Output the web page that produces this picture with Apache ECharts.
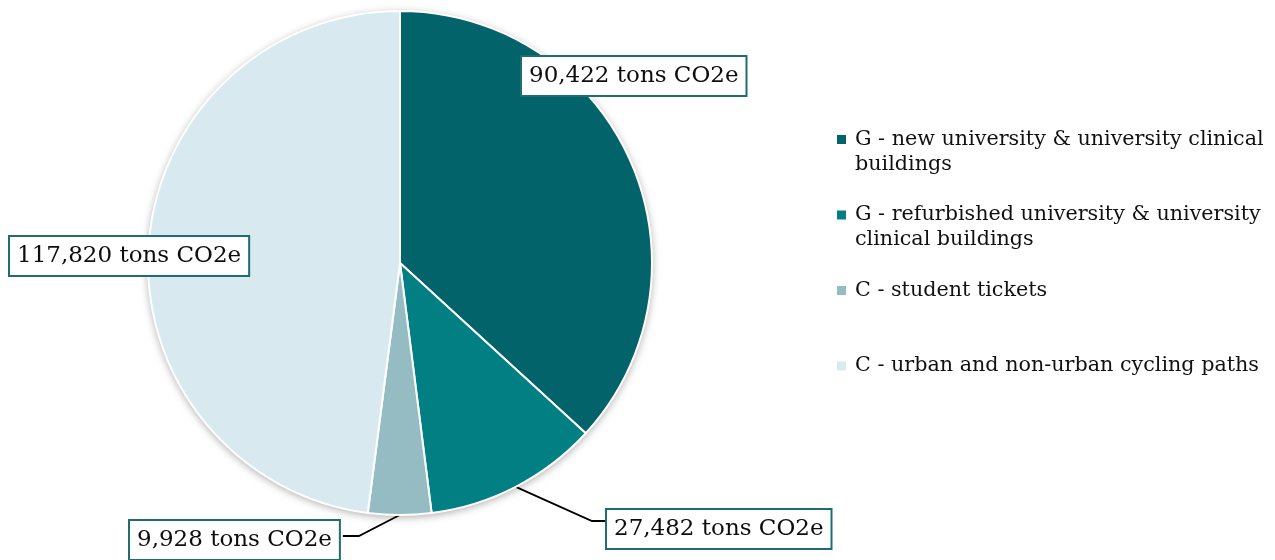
<!DOCTYPE html>
<html>
<head>
<meta charset="utf-8">
<script src="https://cdn.jsdelivr.net/npm/echarts@6/dist/echarts.min.js"></script>
<style>
  html, body { margin: 0; padding: 0; background: #ffffff; }
  #chart { width: 1275px; height: 560px; }
</style>
</head>
<body>
<div id="chart"></div>
<script>
// Emission savings per measure (tons CO2e)
const categories = [
  'G - new university & university clinical\nbuildings',
  'G - refurbished university & university\nclinical buildings',
  'C - student tickets',
  'C - urban and non-urban cycling paths'
];
const emissions = [90422, 27482, 9928, 117820];
const sliceColors = ['#03636a', '#017f82', '#94bcc2', '#d8eaf0'];

// Where each value box sits (top-left corner) and which side its leader line joins
const labelAnchors = [[522, 57], [607, 510], [130, 521], [10, 237]];
const leaderSide = [null, 'left', 'right', null];
const leaderJoin = { left: 11, right: 15 };

const PIE_CENTER = [400, 263];
const PIE_RADIUS = 252;
const SERIF = '"DejaVu Serif", "Liberation Serif", serif';

const chart = echarts.init(document.getElementById('chart'), null, { renderer: 'canvas' });

const sliceData = categories.map((name, i) => ({
  name: name,
  value: emissions[i],
  itemStyle: { color: sliceColors[i] },
  labelLine: { show: leaderSide[i] !== null }
}));

chart.setOption({
  animation: false,
  backgroundColor: '#ffffff',
  legend: {
    orient: 'vertical',
    left: 837,
    top: 102,
    padding: 0,
    itemGap: 0.5,
    itemWidth: 9,
    itemHeight: 9,
    icon: 'rect',
    selectedMode: false,
    itemStyle: { borderWidth: 0 },
    data: categories,
    // every entry takes three text rows so the square lines up with the first row
    formatter: (name) => (name.indexOf('\n') >= 0 ? '\n' + name : '\n' + name + '\n'),
    textStyle: {
      fontFamily: SERIF,
      fontSize: 20.7,
      lineHeight: 25,
      padding: [0, 0, 0, 4],
      color: '#111111'
    }
  },
  series: [
    {
      // soft drop shadow behind the whole disc
      type: 'pie',
      silent: true,
      z: 1,
      center: PIE_CENTER,
      radius: PIE_RADIUS,
      label: { show: false },
      labelLine: { show: false },
      itemStyle: {
        color: '#ffffff',
        shadowBlur: 9,
        shadowOffsetY: 2,
        shadowColor: 'rgba(0, 0, 0, 0.35)'
      },
      emphasis: { disabled: true },
      data: [{ value: 1, name: 'disc' }]
    },
    {
      type: 'pie',
      z: 2,
      center: PIE_CENTER,
      radius: PIE_RADIUS,
      startAngle: 90,
      clockwise: true,
      avoidLabelOverlap: false,
      emphasis: { disabled: true },
      itemStyle: { borderColor: '#ffffff', borderWidth: 2 },
      label: {
        show: true,
        position: 'outside',
        formatter: (p) => p.value.toLocaleString('en-US') + ' tons CO2e',
        fontFamily: SERIF,
        fontSize: 23,
        color: '#0d0d0d',
        backgroundColor: '#ffffff',
        borderColor: '#1f6d70',
        borderWidth: 2,
        padding: [8, 7, 7, 7]
      },
      labelLine: {
        show: true,
        length: 10,
        length2: 10,
        lineStyle: { color: '#000000', width: 1.8 }
      },
      labelLayout: function (params) {
        const i = params.dataIndex;
        const x = labelAnchors[i][0];
        const y = labelAnchors[i][1];
        const out = { x: x, y: y, align: 'left', verticalAlign: 'top' };
        const side = leaderSide[i];
        if (side && params.labelLinePoints) {
          const w = params.labelRect.width;
          const joinY = y + leaderJoin[side];
          const start = params.labelLinePoints[0];
          if (side === 'left') {
            out.labelLinePoints = [start, [x - 15, joinY], [x, joinY]];
          } else {
            out.labelLinePoints = [start, [x + w + 16, joinY], [x + w, joinY]];
          }
        }
        return out;
      },
      data: sliceData
    }
  ]
});
</script>
</body>
</html>
